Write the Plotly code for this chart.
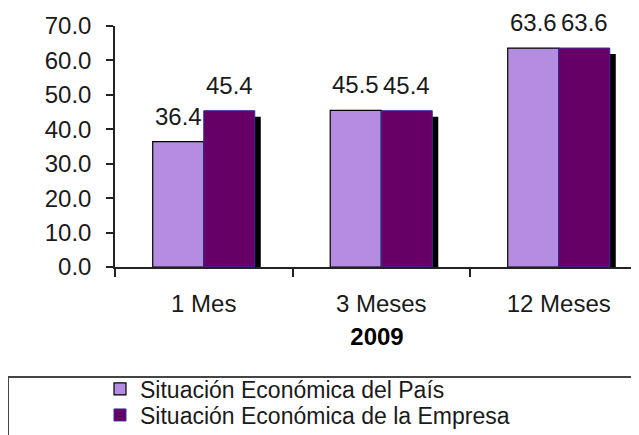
import plotly.graph_objects as go

categories = ["1 Mes", "3 Meses", "12 Meses"]
pais = [36.4, 45.5, 63.6]
empresa = [45.4, 45.4, 63.6]
series_names = ["Situación Económica del País", "Situación Económica de la Empresa"]
axis_title = "2009"

FONT = "Liberation Sans, Arial, sans-serif"
FS = 24
LEG_FS = 23
OFF = 8                      # page body margin offset (screen = figure + OFF)
W, H = 639 - OFF, 435 - OFF  # figure size
# target screen geometry
S_LEFT, S_TOP, S_BOTTOM, S_RIGHT = 115, 26, 267, 639
ML = S_LEFT - OFF
MT = S_TOP - OFF
MB = H - (S_BOTTOM - OFF)
MR = W - (S_RIGHT - OFF)
plot_w = W - ML - MR
plot_h = H - MT - MB
cat_px = 177.5
x_lo = -0.5
x_hi = x_lo + plot_w / cat_px
y_lo, y_hi = 0, 70
px_per_y = plot_h / (y_hi - y_lo)
shadow_dx = 6 / cat_px
shadow_dy = 6 / px_per_y

light_col = "#B48DE2"
dark_col = "#660066"

def py(screen_y):
    return (S_BOTTOM - screen_y) / plot_h

def px(screen_x):
    return (screen_x - S_LEFT) / plot_w

fig = go.Figure()

# shadows (base axes, shifted)
for vals in (pais, empresa):
    fig.add_trace(go.Bar(x=categories, y=vals, marker=dict(color="black", line=dict(width=0)),
                         showlegend=False, hoverinfo="skip", xaxis="x", yaxis="y"))

# real bars (overlay axes)
fig.add_trace(go.Bar(x=categories, y=pais, name=series_names[0], xaxis="x2", yaxis="y2",
                     legend="legend",
                     marker=dict(color=light_col, line=dict(color="black", width=1.2))))
fig.add_trace(go.Bar(x=categories, y=empresa, name=series_names[1], xaxis="x2", yaxis="y2",
                     legend="legend2",
                     marker=dict(color=dark_col, line=dict(color="#3B2E9A", width=1))))

# data labels
half = 0.5 * (1 - 0.425) / 2 * cat_px
for vals, sh in ((pais, -half), (empresa, half)):
    for c, v in zip(categories, vals):
        fig.add_annotation(x=c, y=v, xref="x2", yref="y2", text=f"{v:.1f}", showarrow=False,
                           xshift=sh, yshift=10, yanchor="bottom", xanchor="center",
                           font=dict(family=FONT, size=FS, color="#1a1a1a"))

leg_common = dict(xanchor="left", yanchor="middle", xref="container", yref="container",
                  bgcolor="rgba(0,0,0,0)", borderwidth=0,
                  font=dict(family=FONT, size=LEG_FS, color="#1a1a1a"), itemwidth=30)

fig.update_layout(
    width=W, height=H,
    margin=dict(l=ML, r=MR, t=MT, b=MB, pad=0, autoexpand=False),
    paper_bgcolor="white", plot_bgcolor="rgba(0,0,0,0)",
    barmode="group", bargap=0.425, bargroupgap=0,
    font=dict(family=FONT, size=FS, color="#1a1a1a"),
    xaxis=dict(range=[x_lo - shadow_dx, x_hi - shadow_dx], visible=False, fixedrange=True),
    yaxis=dict(range=[y_lo + shadow_dy, y_hi + shadow_dy], visible=False, fixedrange=True),
    xaxis2=dict(overlaying="x", anchor="y2", side="bottom", range=[x_lo, x_hi],
                showline=True, linecolor="#222", linewidth=1.5,
                ticks="outside", ticklen=8, tickwidth=1.5, tickcolor="#222",
                tickson="boundaries", showgrid=False, ticklabelstandoff=14,
                tickfont=dict(family=FONT, size=FS, color="#1a1a1a"),
                title=dict(text=f"<b>{axis_title}</b>", standoff=13,
                           font=dict(family=FONT, size=FS, color="black"))),
    yaxis2=dict(overlaying="y", anchor="x2", range=[y_lo, y_hi], dtick=10, tickformat=".1f",
                showline=True, linecolor="#222", linewidth=1.5,
                ticks="outside", ticklen=7, tickwidth=1.5, tickcolor="#222",
                showgrid=False, zeroline=False, ticklabelstandoff=10,
                tickfont=dict(family=FONT, size=FS, color="#1a1a1a")),
    legend=dict(x=(100 - OFF) / W, y=1 - (389 - OFF) / H, **leg_common),
    legend2=dict(x=(100 - OFF) / W, y=1 - (415 - OFF) / H, **leg_common),
)

fig.add_shape(type="rect", xref="paper", yref="paper",
              x0=px(8), x1=px(660), y0=py(377), y1=py(460),
              line=dict(color="#444", width=2), fillcolor="rgba(0,0,0,0)", layer="below")

fig.write_html("out.html")
